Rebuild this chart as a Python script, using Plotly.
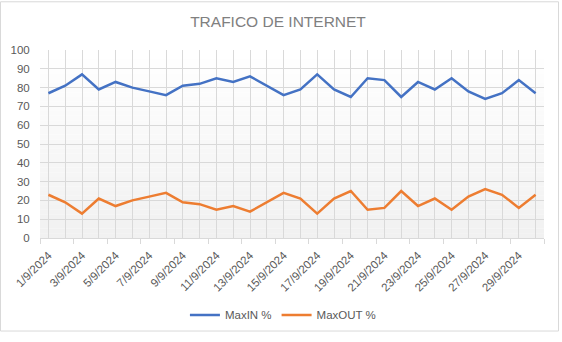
import plotly.graph_objects as go

# Daily peak traffic for September 2024 (percent of link capacity)
dias = list(range(1, 31))
fechas = [f"{d}/9/2024" for d in dias]
max_in = [77, 81, 87, 79, 83, 80, 78, 76, 81, 82, 85, 83, 86, 81, 76,
          79, 87, 79, 75, 85, 84, 75, 83, 79, 85, 78, 74, 77, 84, 77]
max_out = [23, 19, 13, 21, 17, 20, 22, 24, 19, 18, 15, 17, 14, 19, 24,
           21, 13, 21, 25, 15, 16, 25, 17, 21, 15, 22, 26, 23, 16, 23]
y_ticks = list(range(0, 101, 10))

GRID = "#d9d9d9"
TEXT = "#595959"
FONT = "Liberation Sans"

fig = go.Figure()
fig.add_trace(go.Scatter(x=dias, y=max_in, mode="lines", name="MaxIN %",
                         line=dict(color="#4472C4", width=2.5)))
fig.add_trace(go.Scatter(x=dias, y=max_out, mode="lines", name="MaxOUT %",
                         line=dict(color="#ED7D31", width=2.5)))

# Soft vertical gradient behind the plot area (white at top, light grey at bottom)
n_strips = 40
shapes = []
for i in range(n_strips):
    t = i / (n_strips - 1)
    v = round(255 - t * (255 - 241))
    shapes.append(dict(type="rect", xref="x domain", yref="y domain",
                       x0=0, x1=1, y0=1 - (i + 1) / n_strips, y1=1 - i / n_strips,
                       fillcolor=f"rgb({v},{v},{v})", line=dict(width=0),
                       layer="below"))

# Chart-area border
W, H = 562, 342
L, R, T, B = 40, 18, 50, 99
pw, ph = W - L - R, H - T - B
shapes.append(dict(type="rect", xref="paper", yref="paper",
                   x0=(0.5 - L) / pw, x1=(558.5 - L) / pw,
                   y0=1 - (338.5 - T) / ph, y1=1 - (0.5 - T) / ph,
                   line=dict(color=GRID, width=1), fillcolor="rgba(0,0,0,0)",
                   layer="above"))

tick_text = [f if (d % 2 == 1) else "" for d, f in zip(dias, fechas)]

fig.update_layout(
    width=W, height=H,
    margin=dict(l=L, r=R, t=T, b=B),
    paper_bgcolor="white",
    plot_bgcolor="rgba(0,0,0,0)",
    font=dict(family=FONT, size=11.5, color=TEXT),
    title=dict(text="TRAFICO DE INTERNET", xref="container", yref="container",
               x=278 / W, y=1 - 21.5 / H, xanchor="center", yanchor="middle",
               font=dict(family=FONT, size=15.5, color="#808080")),
    showlegend=True,
    legend=dict(orientation="h", x=0.482, xanchor="center", xref="paper",
                y=-(322 - (T + ph)) / ph, yanchor="middle",
                font=dict(family=FONT, size=11.5, color=TEXT),
                itemwidth=30, bgcolor="rgba(0,0,0,0)"),
    shapes=shapes,
)

fig.update_xaxes(
    range=[0.5, 30.5],
    tickmode="array", tickvals=dias, ticktext=tick_text,
    tickangle=-45, ticks="", showgrid=True, gridcolor=GRID, gridwidth=1,
    showline=True, linecolor=GRID, linewidth=1, zeroline=False,
    ticklabelstandoff=5,
    minor=dict(tickmode="array", tickvals=[d - 0.5 for d in dias[::2]] + [30.5],
               ticks="outside", ticklen=5, tickcolor=GRID, showgrid=False),
    fixedrange=True,
)
fig.update_yaxes(
    range=[0, 100], tickmode="array", tickvals=y_ticks,
    showgrid=True, gridcolor=GRID, gridwidth=1, zeroline=False,
    showline=False, ticks="outside", ticklen=7, tickcolor="rgba(0,0,0,0)",
    fixedrange=True,
)

fig.write_html("out.html")
